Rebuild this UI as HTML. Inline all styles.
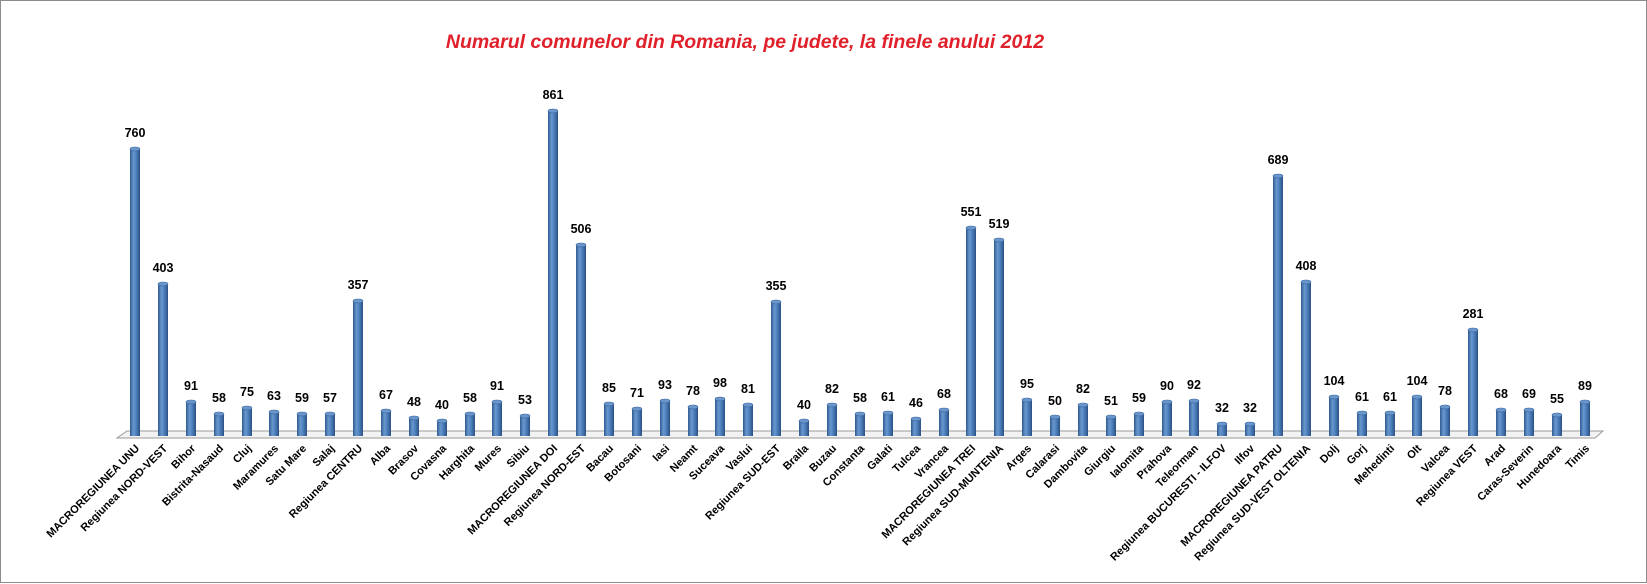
<!DOCTYPE html>
<html><head><meta charset="utf-8"><style>
html,body{margin:0;padding:0;background:#fff}
svg{display:block}
.v{font:bold 12.5px "Liberation Sans",sans-serif;fill:#000;text-anchor:middle}
.l{font:bold 11px "Liberation Sans",sans-serif;fill:#000;text-anchor:end}
</style></head><body>
<svg width="1647" height="584" xmlns="http://www.w3.org/2000/svg">
<defs>
<linearGradient id="g" x1="0" x2="1" y1="0" y2="0">
<stop offset="0" stop-color="#2e5a8e"/><stop offset="0.35" stop-color="#6a98d0"/><stop offset="0.6" stop-color="#4f81bd"/><stop offset="1" stop-color="#2b5184"/>
</linearGradient>
</defs>
<rect x="0.5" y="0.5" width="1646" height="582" fill="#fff" stroke="#8c8c8c"/>
<text x="745" y="48" text-anchor="middle" style="font:italic bold 19.5px 'Liberation Sans',sans-serif;fill:#e0202a">Numarul comunelor din Romania, pe judete, la finele anului 2012</text>
<polygon points="117,438 127,431 1603,431 1595,438" fill="#f2f2f2" stroke="#9a9a9a"/>
<g id="bars" fill="url(#g)">
<rect x="130" y="149" width="10" height="287"/><rect x="158" y="284" width="10" height="152"/><rect x="186" y="402" width="10" height="34"/><rect x="214" y="414" width="10" height="22"/><rect x="242" y="408" width="10" height="28"/><rect x="269" y="412" width="10" height="24"/><rect x="297" y="414" width="10" height="22"/><rect x="325" y="414" width="10" height="22"/><rect x="353" y="301" width="10" height="135"/><rect x="381" y="411" width="10" height="25"/><rect x="409" y="418" width="10" height="18"/><rect x="437" y="421" width="10" height="15"/><rect x="465" y="414" width="10" height="22"/><rect x="492" y="402" width="10" height="34"/><rect x="520" y="416" width="10" height="20"/><rect x="548" y="111" width="10" height="325"/><rect x="576" y="245" width="10" height="191"/><rect x="604" y="404" width="10" height="32"/><rect x="632" y="409" width="10" height="27"/><rect x="660" y="401" width="10" height="35"/><rect x="688" y="407" width="10" height="29"/><rect x="715" y="399" width="10" height="37"/><rect x="743" y="405" width="10" height="31"/><rect x="771" y="302" width="10" height="134"/><rect x="799" y="421" width="10" height="15"/><rect x="827" y="405" width="10" height="31"/><rect x="855" y="414" width="10" height="22"/><rect x="883" y="413" width="10" height="23"/><rect x="911" y="419" width="10" height="17"/><rect x="939" y="410" width="10" height="26"/><rect x="966" y="228" width="10" height="208"/><rect x="994" y="240" width="10" height="196"/><rect x="1022" y="400" width="10" height="36"/><rect x="1050" y="417" width="10" height="19"/><rect x="1078" y="405" width="10" height="31"/><rect x="1106" y="417" width="10" height="19"/><rect x="1134" y="414" width="10" height="22"/><rect x="1162" y="402" width="10" height="34"/><rect x="1189" y="401" width="10" height="35"/><rect x="1217" y="424" width="10" height="12"/><rect x="1245" y="424" width="10" height="12"/><rect x="1273" y="176" width="10" height="260"/><rect x="1301" y="282" width="10" height="154"/><rect x="1329" y="397" width="10" height="39"/><rect x="1357" y="413" width="10" height="23"/><rect x="1385" y="413" width="10" height="23"/><rect x="1412" y="397" width="10" height="39"/><rect x="1440" y="407" width="10" height="29"/><rect x="1468" y="330" width="10" height="106"/><rect x="1496" y="410" width="10" height="26"/><rect x="1524" y="410" width="10" height="26"/><rect x="1552" y="415" width="10" height="21"/><rect x="1580" y="402" width="10" height="34"/>
</g>
<g fill="#6a96cc" stroke="#3a679e" stroke-width="0.6">
<ellipse cx="135" cy="149" rx="5" ry="2"/><ellipse cx="163" cy="284" rx="5" ry="2"/><ellipse cx="191" cy="402" rx="5" ry="2"/><ellipse cx="219" cy="414" rx="5" ry="2"/><ellipse cx="247" cy="408" rx="5" ry="2"/><ellipse cx="274" cy="412" rx="5" ry="2"/><ellipse cx="302" cy="414" rx="5" ry="2"/><ellipse cx="330" cy="414" rx="5" ry="2"/><ellipse cx="358" cy="301" rx="5" ry="2"/><ellipse cx="386" cy="411" rx="5" ry="2"/><ellipse cx="414" cy="418" rx="5" ry="2"/><ellipse cx="442" cy="421" rx="5" ry="2"/><ellipse cx="470" cy="414" rx="5" ry="2"/><ellipse cx="497" cy="402" rx="5" ry="2"/><ellipse cx="525" cy="416" rx="5" ry="2"/><ellipse cx="553" cy="111" rx="5" ry="2"/><ellipse cx="581" cy="245" rx="5" ry="2"/><ellipse cx="609" cy="404" rx="5" ry="2"/><ellipse cx="637" cy="409" rx="5" ry="2"/><ellipse cx="665" cy="401" rx="5" ry="2"/><ellipse cx="693" cy="407" rx="5" ry="2"/><ellipse cx="720" cy="399" rx="5" ry="2"/><ellipse cx="748" cy="405" rx="5" ry="2"/><ellipse cx="776" cy="302" rx="5" ry="2"/><ellipse cx="804" cy="421" rx="5" ry="2"/><ellipse cx="832" cy="405" rx="5" ry="2"/><ellipse cx="860" cy="414" rx="5" ry="2"/><ellipse cx="888" cy="413" rx="5" ry="2"/><ellipse cx="916" cy="419" rx="5" ry="2"/><ellipse cx="944" cy="410" rx="5" ry="2"/><ellipse cx="971" cy="228" rx="5" ry="2"/><ellipse cx="999" cy="240" rx="5" ry="2"/><ellipse cx="1027" cy="400" rx="5" ry="2"/><ellipse cx="1055" cy="417" rx="5" ry="2"/><ellipse cx="1083" cy="405" rx="5" ry="2"/><ellipse cx="1111" cy="417" rx="5" ry="2"/><ellipse cx="1139" cy="414" rx="5" ry="2"/><ellipse cx="1167" cy="402" rx="5" ry="2"/><ellipse cx="1194" cy="401" rx="5" ry="2"/><ellipse cx="1222" cy="424" rx="5" ry="2"/><ellipse cx="1250" cy="424" rx="5" ry="2"/><ellipse cx="1278" cy="176" rx="5" ry="2"/><ellipse cx="1306" cy="282" rx="5" ry="2"/><ellipse cx="1334" cy="397" rx="5" ry="2"/><ellipse cx="1362" cy="413" rx="5" ry="2"/><ellipse cx="1390" cy="413" rx="5" ry="2"/><ellipse cx="1417" cy="397" rx="5" ry="2"/><ellipse cx="1445" cy="407" rx="5" ry="2"/><ellipse cx="1473" cy="330" rx="5" ry="2"/><ellipse cx="1501" cy="410" rx="5" ry="2"/><ellipse cx="1529" cy="410" rx="5" ry="2"/><ellipse cx="1557" cy="415" rx="5" ry="2"/><ellipse cx="1585" cy="402" rx="5" ry="2"/>
</g>
<g class="vals">
<text class="v" x="135" y="137">760</text><text class="v" x="163" y="272">403</text><text class="v" x="191" y="390">91</text><text class="v" x="219" y="402">58</text><text class="v" x="247" y="396">75</text><text class="v" x="274" y="400">63</text><text class="v" x="302" y="402">59</text><text class="v" x="330" y="402">57</text><text class="v" x="358" y="289">357</text><text class="v" x="386" y="399">67</text><text class="v" x="414" y="406">48</text><text class="v" x="442" y="409">40</text><text class="v" x="470" y="402">58</text><text class="v" x="497" y="390">91</text><text class="v" x="525" y="404">53</text><text class="v" x="553" y="99">861</text><text class="v" x="581" y="233">506</text><text class="v" x="609" y="392">85</text><text class="v" x="637" y="397">71</text><text class="v" x="665" y="389">93</text><text class="v" x="693" y="395">78</text><text class="v" x="720" y="387">98</text><text class="v" x="748" y="393">81</text><text class="v" x="776" y="290">355</text><text class="v" x="804" y="409">40</text><text class="v" x="832" y="393">82</text><text class="v" x="860" y="402">58</text><text class="v" x="888" y="401">61</text><text class="v" x="916" y="407">46</text><text class="v" x="944" y="398">68</text><text class="v" x="971" y="216">551</text><text class="v" x="999" y="228">519</text><text class="v" x="1027" y="388">95</text><text class="v" x="1055" y="405">50</text><text class="v" x="1083" y="393">82</text><text class="v" x="1111" y="405">51</text><text class="v" x="1139" y="402">59</text><text class="v" x="1167" y="390">90</text><text class="v" x="1194" y="389">92</text><text class="v" x="1222" y="412">32</text><text class="v" x="1250" y="412">32</text><text class="v" x="1278" y="164">689</text><text class="v" x="1306" y="270">408</text><text class="v" x="1334" y="385">104</text><text class="v" x="1362" y="401">61</text><text class="v" x="1390" y="401">61</text><text class="v" x="1417" y="385">104</text><text class="v" x="1445" y="395">78</text><text class="v" x="1473" y="318">281</text><text class="v" x="1501" y="398">68</text><text class="v" x="1529" y="398">69</text><text class="v" x="1557" y="403">55</text><text class="v" x="1585" y="390">89</text>
</g>
<g class="labs">
<text class="l" transform="translate(140,449) rotate(-45)">MACROREGIUNEA UNU</text>
<text class="l" transform="translate(168,449) rotate(-45)">Regiunea NORD-VEST</text>
<text class="l" transform="translate(196,449) rotate(-45)">Bihor</text>
<text class="l" transform="translate(224,449) rotate(-45)">Bistrita-Nasaud</text>
<text class="l" transform="translate(252,449) rotate(-45)">Cluj</text>
<text class="l" transform="translate(279,449) rotate(-45)">Maramures</text>
<text class="l" transform="translate(307,449) rotate(-45)">Satu Mare</text>
<text class="l" transform="translate(335,449) rotate(-45)">Salaj</text>
<text class="l" transform="translate(363,449) rotate(-45)">Regiunea CENTRU</text>
<text class="l" transform="translate(391,449) rotate(-45)">Alba</text>
<text class="l" transform="translate(419,449) rotate(-45)">Brasov</text>
<text class="l" transform="translate(447,449) rotate(-45)">Covasna</text>
<text class="l" transform="translate(475,449) rotate(-45)">Harghita</text>
<text class="l" transform="translate(502,449) rotate(-45)">Mures</text>
<text class="l" transform="translate(530,449) rotate(-45)">Sibiu</text>
<text class="l" transform="translate(558,449) rotate(-45)">MACROREGIUNEA DOI</text>
<text class="l" transform="translate(586,449) rotate(-45)">Regiunea NORD-EST</text>
<text class="l" transform="translate(614,449) rotate(-45)">Bacau</text>
<text class="l" transform="translate(642,449) rotate(-45)">Botosani</text>
<text class="l" transform="translate(670,449) rotate(-45)">Iasi</text>
<text class="l" transform="translate(698,449) rotate(-45)">Neamt</text>
<text class="l" transform="translate(725,449) rotate(-45)">Suceava</text>
<text class="l" transform="translate(753,449) rotate(-45)">Vaslui</text>
<text class="l" transform="translate(781,449) rotate(-45)">Regiunea SUD-EST</text>
<text class="l" transform="translate(809,449) rotate(-45)">Braila</text>
<text class="l" transform="translate(837,449) rotate(-45)">Buzau</text>
<text class="l" transform="translate(865,449) rotate(-45)">Constanta</text>
<text class="l" transform="translate(893,449) rotate(-45)">Galati</text>
<text class="l" transform="translate(921,449) rotate(-45)">Tulcea</text>
<text class="l" transform="translate(949,449) rotate(-45)">Vrancea</text>
<text class="l" transform="translate(976,449) rotate(-45)">MACROREGIUNEA TREI</text>
<text class="l" transform="translate(1004,449) rotate(-45)">Regiunea SUD-MUNTENIA</text>
<text class="l" transform="translate(1032,449) rotate(-45)">Arges</text>
<text class="l" transform="translate(1060,449) rotate(-45)">Calarasi</text>
<text class="l" transform="translate(1088,449) rotate(-45)">Dambovita</text>
<text class="l" transform="translate(1116,449) rotate(-45)">Giurgiu</text>
<text class="l" transform="translate(1144,449) rotate(-45)">Ialomita</text>
<text class="l" transform="translate(1172,449) rotate(-45)">Prahova</text>
<text class="l" transform="translate(1199,449) rotate(-45)">Teleorman</text>
<text class="l" transform="translate(1227,449) rotate(-45)">Regiunea BUCURESTI - ILFOV</text>
<text class="l" transform="translate(1255,449) rotate(-45)">Ilfov</text>
<text class="l" transform="translate(1283,449) rotate(-45)">MACROREGIUNEA PATRU</text>
<text class="l" transform="translate(1311,449) rotate(-45)">Regiunea SUD-VEST OLTENIA</text>
<text class="l" transform="translate(1339,449) rotate(-45)">Dolj</text>
<text class="l" transform="translate(1367,449) rotate(-45)">Gorj</text>
<text class="l" transform="translate(1395,449) rotate(-45)">Mehedinti</text>
<text class="l" transform="translate(1422,449) rotate(-45)">Olt</text>
<text class="l" transform="translate(1450,449) rotate(-45)">Valcea</text>
<text class="l" transform="translate(1478,449) rotate(-45)">Regiunea VEST</text>
<text class="l" transform="translate(1506,449) rotate(-45)">Arad</text>
<text class="l" transform="translate(1534,449) rotate(-45)">Caras-Severin</text>
<text class="l" transform="translate(1562,449) rotate(-45)">Hunedoara</text>
<text class="l" transform="translate(1590,449) rotate(-45)">Timis</text>
</g>
</svg>
</body></html>
